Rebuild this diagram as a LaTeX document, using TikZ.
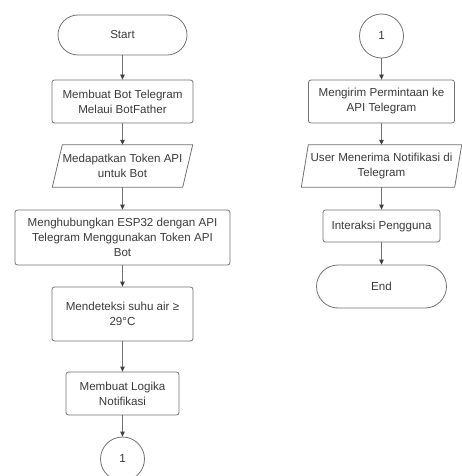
\documentclass[tikz,border=0pt]{standalone}
\usepackage{fontspec}
\setmainfont{Liberation Sans}
\usetikzlibrary{arrows.meta,calc}
\definecolor{linec}{HTML}{727272}
\definecolor{tipc}{HTML}{404040}
\definecolor{textc}{HTML}{3A3A3A}
\begin{document}
\begin{tikzpicture}[x=1pt,y=-1pt,
  txt/.style={text=textc, font=\fontsize{11.6}{15}\selectfont, align=center, inner sep=0pt},
  base/.style={txt, draw=linec, line width=0.8pt},
  term/.style={base, rounded corners=20pt},
  proc/.style={base, rounded corners=2.5pt},
  io/.style={txt},
  ioborder/.style={draw=linec, line width=0.8pt, line join=round},
  conn/.style={base, circle},
  arr/.style={draw=linec, line width=0.8pt, -{Triangle[length=5pt,width=4.5pt,color=tipc]}},
]
\useasboundingbox (0,0) rectangle (462,476);
% left column
\node[term, minimum width=129pt, minimum height=40pt] (start) at (122.5,35) {Start};
\node[proc, minimum width=141pt, minimum height=43pt] (b1) at (122.5,101.5) {Membuat Bot Telegram\\Melaui BotFather};
\node[io, minimum width=140pt, minimum height=42pt] (p1) at (122.5,166) {Medapatkan Token API\\untuk Bot};
\draw[ioborder] ([xshift=10pt]p1.north west) -- (p1.north east) -- ([xshift=-10pt]p1.south east) -- (p1.south west) -- cycle;
\node[proc, minimum width=215pt, minimum height=55pt] (b3) at (122.5,237.5) {Menghubungkan ESP32 dengan API\\Telegram Menggunakan Token API\\Bot};
\node[proc, minimum width=141pt, minimum height=54pt] (b4) at (122.5,314) {Mendeteksi suhu air ≥\\29°C};
\node[proc, minimum width=113pt, minimum height=43pt] (b5) at (122.5,393.5) {Membuat Logika\\Notifikasi};
\node[conn, minimum size=44pt] (c1) at (122.5,459) {1};
% right column
\node[conn, minimum size=44pt] (c2) at (381.5,36) {1};
\node[proc, minimum width=146pt, minimum height=43pt] (r1) at (381.5,101.5) {Mengirim Permintaan ke\\API Telegram};
\node[io, minimum width=160pt, minimum height=42pt] (p2) at (381.5,166) {User Menerima Notifikasi di\\Telegram};
\draw[ioborder] ([xshift=7pt]p2.north west) -- (p2.north east) -- ([xshift=-7pt]p2.south east) -- (p2.south west) -- cycle;
\node[proc, minimum width=117pt, minimum height=32pt] (r3) at (381.5,226) {Interaksi Pengguna};
\node[term, rounded corners=21.5pt, minimum width=130pt, minimum height=43pt] (end) at (381.5,286.5) {End};
% connectors
\draw[arr] (start) -- (b1);
\draw[arr] (b1) -- (p1);
\draw[arr] (p1) -- (b3);
\draw[arr] (b3) -- (b4);
\draw[arr] (b4) -- (b5);
\draw[arr] (b5) -- (c1);
\draw[arr] (c2) -- (r1);
\draw[arr] (r1) -- (p2);
\draw[arr] (p2) -- (r3);
\draw[arr] (r3) -- (end);
\end{tikzpicture}
\end{document}
